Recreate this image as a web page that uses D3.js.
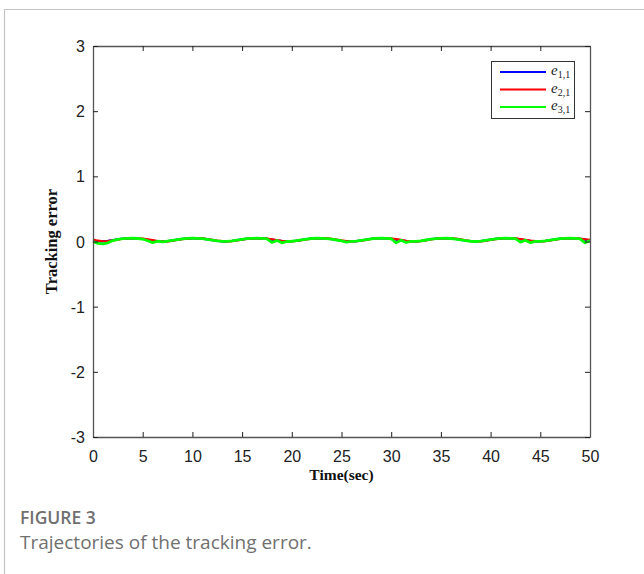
<!DOCTYPE html>
<html>
<head>
<meta charset="utf-8">
<script src="https://cdn.jsdelivr.net/npm/d3@7"></script>
<style>
  body { margin: 0; background: #fff; }
  svg { display: block; }
</style>
</head>
<body>
<div id="output"></div>
<script>
// time samples, every 0.5 s
var times = d3.range(0, 50.01, 0.5);

var e11 = [0.007,0.001,0.003,0.011,0.023,0.035,0.045,0.049,0.05,0.046,
  0.038,0.025,0.013,0.004,0.0,0.005,0.016,0.028,0.04,0.047,
  0.05,0.049,0.043,0.032,0.02,0.009,0.002,0.002,0.009,0.02,
  0.032,0.043,0.049,0.05,0.047,0.04,0.028,0.016,0.005,0.0,
  0.004,0.013,0.025,0.038,0.046,0.05,0.049,0.045,0.035,0.023,
  0.011,0.003,0.001,0.007,0.018,0.03,0.042,0.048,0.05,0.048,
  0.042,0.03,0.018,0.007,0.001,0.003,0.011,0.023,0.035,0.045,
  0.049,0.05,0.046,0.038,0.025,0.013,0.004,0.0,0.005,0.016,
  0.028,0.04,0.047,0.05,0.049,0.043,0.032,0.02,0.009,0.002,
  0.002,0.009,0.02,0.032,0.043,0.049,0.05,0.047,0.04,0.028,0.016];

var e21 = [0.03,0.012,0.004,0.008,0.018,0.03,0.042,0.048,0.05,0.049,
  0.044,0.033,0.02,0.008,0.002,0.003,0.011,0.023,0.036,0.045,
  0.05,0.05,0.047,0.038,0.026,0.014,0.005,0.001,0.005,0.015,
  0.027,0.039,0.047,0.05,0.049,0.045,0.035,0.022,0.01,0.002,
  0.002,0.009,0.02,0.033,0.043,0.049,0.05,0.048,0.041,0.03,
  0.017,0.007,0.001,0.004,0.013,0.025,0.038,0.046,0.05,0.05,
  0.046,0.036,0.024,0.012,0.003,0.001,0.007,0.018,0.031,0.042,
  0.048,0.05,0.049,0.043,0.032,0.019,0.008,0.001,0.002,0.011,
  0.023,0.036,0.045,0.05,0.05,0.047,0.038,0.026,0.014,0.005,
  0.001,0.005,0.015,0.027,0.039,0.047,0.05,0.049,0.045,0.035,0.024];

var e31 = [0.0,-0.03,-0.035,-0.02,0.015,0.033,0.045,0.049,0.05,0.046,
  0.038,0.012,-0.018,0.004,-0.005,0.005,0.016,0.028,0.04,0.047,
  0.05,0.049,0.043,0.032,0.02,0.009,0.002,0.002,0.009,0.02,
  0.032,0.043,0.049,0.05,0.047,0.04,-0.015,0.016,-0.02,0.0,
  0.004,0.013,0.025,0.038,0.046,0.05,0.049,0.045,0.035,0.023,
  0.011,-0.01,0.001,0.007,0.018,0.03,0.042,0.048,0.05,0.048,
  0.042,-0.02,0.018,-0.015,0.001,0.003,0.011,0.023,0.035,0.045,
  0.049,0.05,0.046,0.038,0.025,0.013,0.004,0.0,0.005,0.016,
  0.028,0.04,0.047,0.05,0.049,0.043,-0.01,0.02,-0.018,0.002,
  0.002,0.009,0.02,0.032,0.043,0.049,0.05,0.047,0.04,-0.02,0.016];

var seriesNames = ['1,1', '2,1', '3,1'];
var seriesColors = ['#0000ff', '#ff0000', '#00ff00'];
var seriesWidths = [2.2, 2.2, 2.8];
var xTicks = [0, 5, 10, 15, 20, 25, 30, 35, 40, 45, 50];
var yTicks = [-3, -2, -1, 0, 1, 2, 3];

function renderGraph(){
  var width = 644;
  var height = 574;
  var left = 93, right = 590, top = 46, bottom = 437;

  var svg = d3.select('#output')
  .append('svg')
  .attr('width', width)
  .attr('height', height);

  // page frame
  svg.append('path')
  .attr('d', 'M4.5,574V9.5H644')
  .attr('fill', 'none')
  .attr('stroke', '#c4c4c4')
  .attr('stroke-width', 1.2);

  var xScale = d3.scaleLinear().domain([0, 50]).range([left, right]);
  var yScale = d3.scaleLinear().domain([-3, 3]).range([bottom, top]);

  var tickFont = 'Liberation Sans, Arial, sans-serif';
  var plain = (d) => String(d); // MATLAB style: "-1", not "−1.0"

  // series lines
  var line = d3.line()
  .x((d, i) => xScale(times[i]))
  .y((d) => yScale(d));

  [e11, e21, e31].forEach(function(vals, k){
    svg.append('path')
    .datum(vals)
    .attr('d', line)
    .attr('fill', 'none')
    .attr('stroke', seriesColors[k])
    .attr('stroke-width', seriesWidths[k])
    .attr('stroke-linejoin', 'round');
  });

  // axes: ticks pointing inward on all four sides
  var xb = d3.axisBottom(xScale).tickValues(xTicks).tickSizeInner(-5).tickSizeOuter(0).tickPadding(14).tickFormat(plain);
  var xt = d3.axisTop(xScale).tickValues(xTicks).tickSizeInner(-5).tickSizeOuter(0).tickFormat('');
  var yl = d3.axisLeft(yScale).tickValues(yTicks).tickSizeInner(-5).tickSizeOuter(0).tickPadding(8).tickFormat(plain);
  var yr = d3.axisRight(yScale).tickValues(yTicks).tickSizeInner(-5).tickSizeOuter(0).tickFormat('');

  var gx = svg.append('g').attr('transform', `translate(0,${bottom})`).call(xb);
  svg.append('g').attr('transform', `translate(0,${top})`).call(xt);
  var gy = svg.append('g').attr('transform', `translate(${left},0)`).call(yl);
  svg.append('g').attr('transform', `translate(${right},0)`).call(yr);

  svg.selectAll('.domain').attr('stroke', '#555').attr('stroke-width', 1.3);
  svg.selectAll('.tick line').attr('stroke', '#222');
  svg.selectAll('.tick text')
  .style('font-family', tickFont)
  .style('font-size', '16px')
  .attr('fill', '#222');
  gx.selectAll('.tick text').attr('dy', '0.71em');
  gy.selectAll('.tick text').attr('dy', '0.35em');

  // axis labels
  svg.append('text')
  .attr('x', (left + right) / 2)
  .attr('y', 480)
  .attr('text-anchor', 'middle')
  .attr('font-family', 'Liberation Serif, Times New Roman, serif')
  .attr('font-weight', 'bold')
  .attr('font-size', 15.5)
  .attr('fill', '#111')
  .text('Time(sec)');

  svg.append('text')
  .attr('transform', `translate(57,${(top + bottom) / 2}) rotate(-90)`)
  .attr('text-anchor', 'middle')
  .attr('font-family', 'Liberation Serif, Times New Roman, serif')
  .attr('font-weight', 'bold')
  .attr('font-size', 16.5)
  .attr('fill', '#111')
  .text('Tracking error');

  // legend
  var lg = svg.append('g');
  lg.append('rect')
  .attr('x', 491.5).attr('y', 61.5)
  .attr('width', 83).attr('height', 57)
  .attr('fill', '#fff')
  .attr('stroke', '#333')
  .attr('stroke-width', 1);

  seriesNames.forEach(function(name, k){
    var yy = 72 + k * 17.5;
    lg.append('line')
    .attr('x1', 500).attr('x2', 546)
    .attr('y1', yy).attr('y2', yy)
    .attr('stroke', seriesColors[k])
    .attr('stroke-width', 2.2);
    var t = lg.append('text')
    .attr('x', 551).attr('y', yy + 3)
    .attr('font-family', 'Liberation Serif, Times New Roman, serif')
    .attr('font-size', 15)
    .attr('fill', '#222');
    t.append('tspan').attr('font-style', 'italic').text('e');
    t.append('tspan').attr('font-size', 10).attr('dy', 3).text(name);
  });

  // caption
  svg.append('text')
  .attr('x', 20).attr('y', 524)
  .attr('font-family', 'Open Sans, Noto Sans, sans-serif')
  .attr('font-weight', 600)
  .attr('font-size', 17.5)
  .attr('fill', '#707070')
  .text('FIGURE 3');

  svg.append('text')
  .attr('x', 20).attr('y', 549)
  .attr('font-family', 'Open Sans, Noto Sans, sans-serif')
  .attr('font-size', 19)
  .attr('fill', '#707070')
  .text('Trajectories of the tracking error.');
}

document.addEventListener('DOMContentLoaded', renderGraph);
</script>
</body>
</html>
